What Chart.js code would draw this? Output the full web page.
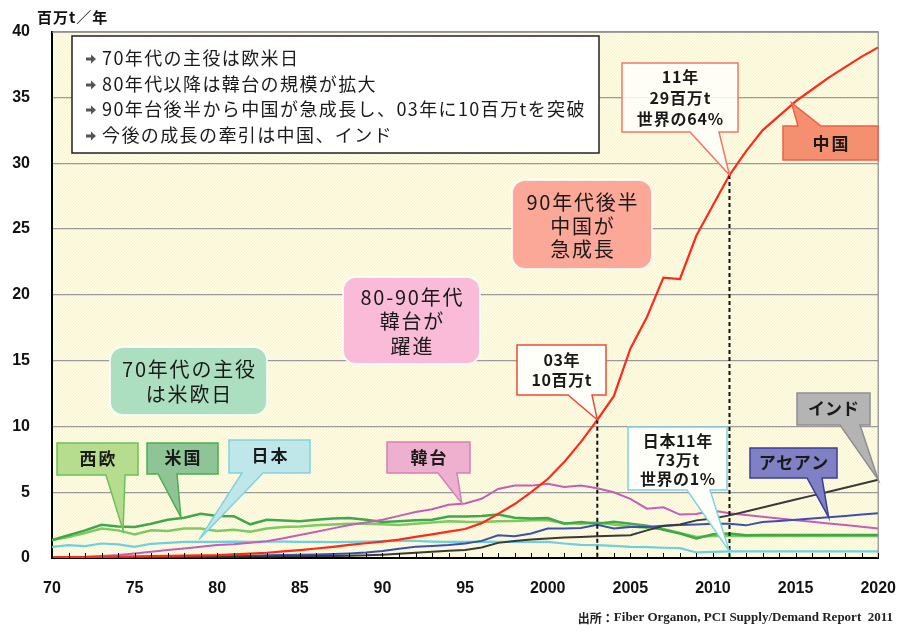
<!DOCTYPE html>
<html><head><meta charset="utf-8">
<script src="https://cdn.jsdelivr.net/npm/chart.js@4.4.1/dist/chart.umd.min.js"></script>
<style>html,body{margin:0;padding:0;background:#fff}canvas{display:block}</style>
</head><body>
<canvas id="c" width="917" height="634" style="width:917px;height:634px"></canvas>
<script>
// ---- data (million t / year) ----
const years = [];
for (let y = 1970; y <= 2020; y++) years.push(y);
const xTickValues = [1970,1975,1980,1985,1990,1995,2000,2005,2010,2015,2020];
const xTickLabels = ['70','75','80','85','90','95','2000','2005','2010','2015','2020'];
const yTickValues = [0,5,10,15,20,25,30,35,40];

const china = [0.05,0.06,0.07,0.08,0.1,0.12,0.14,0.16,0.18,0.2,
  0.22,0.27,0.33,0.4,0.5,0.6,0.72,0.85,1.0,1.12,
  1.25,1.4,1.6,1.8,2.0,2.2,2.65,3.35,4.1,5.0,
  6.0,7.3,8.8,10.5,12.3,15.9,18.3,21.3,21.2,24.5,
  26.8,29.1,30.9,32.5,33.6,34.7,35.6,36.5,37.3,38.1,38.8];
const korea = [0.05,0.08,0.1,0.15,0.22,0.35,0.47,0.6,0.73,0.85,
  0.98,1.05,1.15,1.28,1.5,1.75,2.0,2.25,2.5,2.7,
  2.9,3.2,3.5,3.7,4.05,4.15,4.5,5.25,5.5,5.5,
  5.65,5.4,5.5,5.3,5.0,4.5,3.75,3.85,3.3,3.35,
  3.6,3.4,3.27,3.14,3.0,2.87,2.75,2.62,2.5,2.37,2.25];
const westEurope = [1.36,1.6,1.9,2.24,2.1,1.78,2.1,2.05,2.24,2.24,
  2.05,2.15,2.0,2.24,2.36,2.4,2.48,2.55,2.6,2.6,
  2.56,2.5,2.6,2.7,2.8,2.75,2.73,2.8,2.82,2.86,
  2.86,2.66,2.6,2.7,2.55,2.4,2.3,2.2,1.9,1.6,
  1.68,1.7,1.68,1.68,1.68,1.68,1.68,1.68,1.68,1.68,1.68];
const usa = [1.36,1.73,2.1,2.53,2.4,2.36,2.6,2.9,3.06,3.36,
  3.2,3.18,2.56,2.9,2.85,2.8,2.9,3.0,3.03,2.9,
  2.73,2.8,2.86,2.9,3.16,3.16,3.2,3.3,3.06,3.0,
  3.03,2.6,2.73,2.6,2.75,2.6,2.45,2.15,1.86,1.48,
  1.8,1.86,1.73,1.75,1.75,1.75,1.75,1.75,1.75,1.75,1.75];
const japan = [0.85,0.98,0.9,1.1,1.03,0.85,1.08,1.15,1.23,1.23,
  1.23,1.25,1.23,1.25,1.25,1.23,1.23,1.2,1.22,1.25,
  1.28,1.3,1.3,1.25,1.22,1.23,1.25,1.22,1.25,1.22,
  1.23,1.1,1.0,0.98,0.92,0.85,0.82,0.78,0.75,0.42,
  0.47,0.5,0.5,0.5,0.5,0.5,0.5,0.5,0.5,0.5,0.5];
const asean = [0.02,0.02,0.03,0.04,0.05,0.06,0.07,0.08,0.1,0.12,
  0.14,0.15,0.17,0.2,0.22,0.24,0.26,0.3,0.35,0.42,
  0.53,0.7,0.85,0.92,0.98,1.1,1.3,1.73,1.65,1.86,
  2.24,2.25,2.28,2.53,2.24,2.36,2.36,2.45,2.5,2.55,
  2.6,2.6,2.48,2.73,2.82,2.9,3.0,3.1,3.2,3.3,3.4];
const india = [0.02,0.03,0.03,0.04,0.05,0.06,0.07,0.08,0.08,0.09,
  0.1,0.1,0.11,0.12,0.13,0.14,0.15,0.16,0.18,0.2,
  0.25,0.32,0.4,0.48,0.55,0.6,0.8,1.15,1.3,1.4,
  1.48,1.55,1.6,1.65,1.7,1.73,2.1,2.43,2.55,2.86,
  3.0,3.24,3.54,3.84,4.14,4.44,4.74,5.04,5.34,5.64,5.95];

const pts = arr => arr.map((v,i)=>({x:years[i], y:v}));
const JP = '"Noto Sans CJK JP", "Noto Sans", sans-serif';

function callout(ctx, o){
  ctx.save();
  ctx.beginPath();
  if (o.side === 'top') {
    ctx.moveTo(o.x1,o.y1); ctx.lineTo(o.bL,o.y1); ctx.lineTo(o.tx,o.ty); ctx.lineTo(o.bR,o.y1);
    ctx.lineTo(o.x2,o.y1); ctx.lineTo(o.x2,o.y2); ctx.lineTo(o.x1,o.y2); ctx.closePath();
  } else {
    ctx.moveTo(o.x1,o.y1); ctx.lineTo(o.x2,o.y1); ctx.lineTo(o.x2,o.y2); ctx.lineTo(o.bR,o.y2);
    ctx.lineTo(o.tx,o.ty); ctx.lineTo(o.bL,o.y2); ctx.lineTo(o.x1,o.y2); ctx.closePath();
  }
  ctx.fillStyle = o.fill; ctx.fill();
  ctx.lineWidth = o.lw || 1.5; ctx.strokeStyle = o.stroke; ctx.lineJoin='miter'; ctx.stroke();
  ctx.restore();
  texts(ctx, o.lines, (o.x1+o.x2)/2, o.ys, o.font, o.color||'#1a1a1a', o.ls);
}
function texts(ctx, lines, cx, ys, font, color, ls){
  ctx.save();
  ctx.font = font; ctx.fillStyle = color; ctx.textAlign='center'; ctx.textBaseline='middle';
  ctx.letterSpacing = (ls||0)+'px';
  lines.forEach((t,i)=>ctx.fillText(t, cx + (ls||0)/2, ys[i]));
  ctx.restore();
}
function rbox(ctx, x1,y1,x2,y2, r, fill){
  ctx.save();
  ctx.beginPath(); ctx.roundRect(x1,y1,x2-x1,y2-y1,r);
  ctx.fillStyle = fill; ctx.fill();
  ctx.lineWidth = 2; ctx.strokeStyle='rgba(255,255,255,0.8)'; ctx.stroke();
  ctx.restore();
}

const decor = {
  id:'decor',
  beforeDraw(chart){
    const {ctx, chartArea:a} = chart;
    const pc = document.createElement('canvas'); pc.width=3; pc.height=3;
    const p = pc.getContext('2d');
    p.fillStyle='#fffee4'; p.fillRect(0,0,3,3);
    p.fillStyle='#f4efcc'; p.fillRect(0,0,1,1); p.fillRect(2,1,1,1); p.fillRect(1,2,1,1);
    ctx.save();
    ctx.fillStyle = ctx.createPattern(pc,'repeat');
    ctx.fillRect(a.left,a.top,a.right-a.left,a.bottom-a.top);
    ctx.restore();
  },
  afterDraw(chart){
    const {ctx, chartArea:a, scales:{x,y}} = chart;
    ctx.save();
    // top/right frame
    ctx.strokeStyle='#8a8a8a'; ctx.lineWidth=1.2;
    ctx.beginPath(); ctx.moveTo(a.left,a.top+0.5); ctx.lineTo(a.right,a.top+0.5); ctx.lineTo(a.right,a.bottom); ctx.stroke();
    // yearly minor ticks
    ctx.strokeStyle='#000'; ctx.lineWidth=1;
    years.forEach(yr=>{ const px=Math.round(x.getPixelForValue(yr))+0.5;
      ctx.beginPath(); ctx.moveTo(px,a.bottom); ctx.lineTo(px,a.bottom-5); ctx.stroke(); });
    // dashed guide lines
    ctx.setLineDash([4,3]); ctx.lineWidth=2; ctx.strokeStyle='#111';
    [[2003, china[33]],[2011, china[41]]].forEach(([yr,v])=>{
      const px=x.getPixelForValue(yr);
      ctx.beginPath(); ctx.moveTo(px,y.getPixelForValue(v)); ctx.lineTo(px,a.bottom); ctx.stroke();
    });
    ctx.setLineDash([]);
    // unit title
    ctx.font='bold 15px '+JP; ctx.fillStyle='#111'; ctx.textBaseline='middle'; ctx.textAlign='left';
    ctx.letterSpacing='1px';
    ctx.fillText('百万t／年', 37, 17);
    ctx.letterSpacing='0px';
    // source
    ctx.textAlign='right'; ctx.fillStyle='#222';
    ctx.font='bold 13px "Liberation Serif", serif';
    const src='Fiber Organon, PCI Supply/Demand Report  2011';
    const w = ctx.measureText(src).width;
    ctx.fillText(src, 893, 618);
    ctx.font='bold 12px '+JP;
    ctx.fillText('出所：', 893-w, 618);
    ctx.restore();

    // summary box
    ctx.save();
    ctx.fillStyle='#fff'; ctx.fillRect(72,36,527,117);
    ctx.strokeStyle='#222'; ctx.lineWidth=1.5; ctx.strokeRect(72,36,527,117);
    const notes=['70年代の主役は欧米日','80年代以降は韓台の規模が拡大','90年台後半から中国が急成長し、03年に10百万tを突破','今後の成長の牽引は中国、インド'];
    const ny=[58,84,109,135];
    ctx.font='18px '+JP; ctx.fillStyle='#1a1a1a'; ctx.textBaseline='middle'; ctx.textAlign='left';
    ctx.letterSpacing='1.4px';
    notes.forEach((t,i)=>{
      ctx.fillText(t,102,ny[i]);
      const bx=86, by=ny[i]+1;
      ctx.save(); ctx.fillStyle='#555';
      ctx.beginPath(); ctx.moveTo(bx,by-1.5); ctx.lineTo(bx+5,by-1.5); ctx.lineTo(bx+5,by-4.5);
      ctx.lineTo(bx+10,by); ctx.lineTo(bx+5,by+4.5); ctx.lineTo(bx+5,by+1.5); ctx.lineTo(bx,by+1.5); ctx.closePath(); ctx.fill();
      ctx.restore();
    });
    ctx.restore();

    // rounded theme boxes
    rbox(ctx,512,180,652,269,13,'#fba898');
    texts(ctx,['90年代後半','中国が','急成長'],582,[202,226,249],'20px '+JP,'#1a1a1a',1.8);
    rbox(ctx,343,277,480,364,13,'#f9bbd8');
    texts(ctx,['80-90年代','韓台が','躍進'],411.5,[297,321,346],'20px '+JP,'#1a1a1a',1.8);
    rbox(ctx,110,347,267,415,13,'#abdfc0');
    texts(ctx,['70年代の主役','は米欧日'],188.5,[369,394],'20px '+JP,'#1a1a1a',1.8);

    const X=v=>x.getPixelForValue(v), Y=v=>y.getPixelForValue(v);
    const B='bold 17px '+JP;
    callout(ctx,{x1:622,y1:63,x2:738,y2:132,bL:690,bR:719,tx:X(2011),ty:Y(china[41]),
      fill:'rgba(255,255,250,0.85)',stroke:'#f47563',lines:['11年','29百万t','世界の64%'],ys:[77,98,119],font:'bold 16px '+JP,ls:0.8});
    callout(ctx,{side:'top',x1:783,y1:126,x2:878,y2:160,bL:798,bR:821,tx:X(2014.75),ty:Y(34.6),
      fill:'#f4906f',stroke:'#ef5f48',lines:['中国'],ys:[144],font:B,ls:2});
    callout(ctx,{x1:517,y1:345,x2:606,y2:395,bL:568,bR:592,tx:X(2003),ty:Y(china[33]),
      fill:'#fffffa',stroke:'#ef4a36',lines:['03年','10百万t'],ys:[360,380],font:'bold 16px '+JP,ls:0.6});
    callout(ctx,{x1:628,y1:427,x2:727,y2:490,bL:687,bR:710,tx:X(2011),ty:Y(japan[41]),
      fill:'#fffffa',stroke:'#7fd3e2',lines:['日本11年','73万t','世界の1%'],ys:[441,460,479],font:'bold 16px '+JP,ls:0.6});
    callout(ctx,{x1:797,y1:393,x2:870,y2:425,bL:840,bR:860,tx:X(2020),ty:Y(india[50]),
      fill:'#b4b4b4',stroke:'#8e8e8e',lines:['インド'],ys:[409],font:B,ls:0});
    callout(ctx,{x1:750,y1:448,x2:837,y2:478,bL:807,bR:822,tx:X(2017),ty:Y(asean[47]),
      fill:'#8080c4',stroke:'#3d3d9c',lines:['アセアン'],ys:[463],font:B,ls:0.5});
    callout(ctx,{x1:387,y1:442,x2:470,y2:473,bL:438,bR:457,tx:X(1994.8),ty:Y(korea[25]),
      fill:'#edb0cf',stroke:'#d77fb8',lines:['韓台'],ys:[458],font:B,ls:2});
    callout(ctx,{x1:57,y1:443,x2:138,y2:475,bL:106,bR:125,tx:X(1974.3),ty:Y(2.1),
      fill:'#b6dd8e',stroke:'#6cc05a',lines:['西欧'],ys:[459],font:B,ls:2});
    callout(ctx,{x1:147,y1:443,x2:218,y2:474,bL:158,bR:177,tx:X(1977.8),ty:Y(3.1),
      fill:'#8fc497',stroke:'#4caf50',lines:['米国'],ys:[458],font:B,ls:2});
    callout(ctx,{x1:229,y1:440,x2:310,y2:473,bL:242,bR:263,tx:X(1978.9),ty:Y(1.4),
      fill:'#bfe7ea',stroke:'#80d3e0',lines:['日本'],ys:[456],font:B,ls:2});
  }
};

const ds = (label, arr, color, w) => ({label, data:pts(arr), borderColor:color, borderWidth:w,
  pointRadius:0, tension:0, fill:false});

new Chart(document.getElementById('c'), {
  type:'line',
  data:{datasets:[
    ds('中国', china, '#ff2a1a', 2.2),
    ds('インド', india, '#3a3a3a', 2),
    ds('アセアン', asean, '#3e4fb0', 2),
    ds('韓台', korea, '#c45eb8', 2),
    ds('日本', japan, '#6dd0e0', 2.2),
    ds('米国', usa, '#3fa84b', 2.5),
    ds('西欧', westEurope, '#7ccb5e', 2.5)
  ]},
  options:{
    responsive:false, animation:false, devicePixelRatio:1,
    layout:{padding:{left:0,top:27,right:32,bottom:0}},
    plugins:{legend:{display:false}, tooltip:{enabled:false}},
    scales:{
      x:{type:'linear', min:1970, max:2020,
        afterBuildTicks:s=>{ s.ticks = xTickValues.map(v=>({value:v})); },
        ticks:{autoSkip:false, maxRotation:0, padding:21, color:'#111',
          font:{family:'"Liberation Sans", Arial, sans-serif', size:16, weight:'bold'},
          callback:(v)=>xTickLabels[xTickValues.indexOf(v)]},
        grid:{display:false, drawTicks:false},
        border:{color:'#000', width:2},
        afterFit:s=>{ s.height = 76; }
      },
      y:{min:0, max:40,
        afterBuildTicks:s=>{ s.ticks = yTickValues.map(v=>({value:v})); },
        ticks:{padding:22, color:'#111',
          font:{family:'"Liberation Sans", Arial, sans-serif', size:16, weight:'bold'}},
        grid:{drawTicks:false, lineWidth:1.2, color:c=>c.tick && c.tick.value===0 ? 'rgba(0,0,0,0)' : '#9a9a9a'},
        border:{color:'#000', width:2},
        afterFit:s=>{ s.width = 52; }
      }
    }
  },
  plugins:[decor]
});
</script>
</body></html>
